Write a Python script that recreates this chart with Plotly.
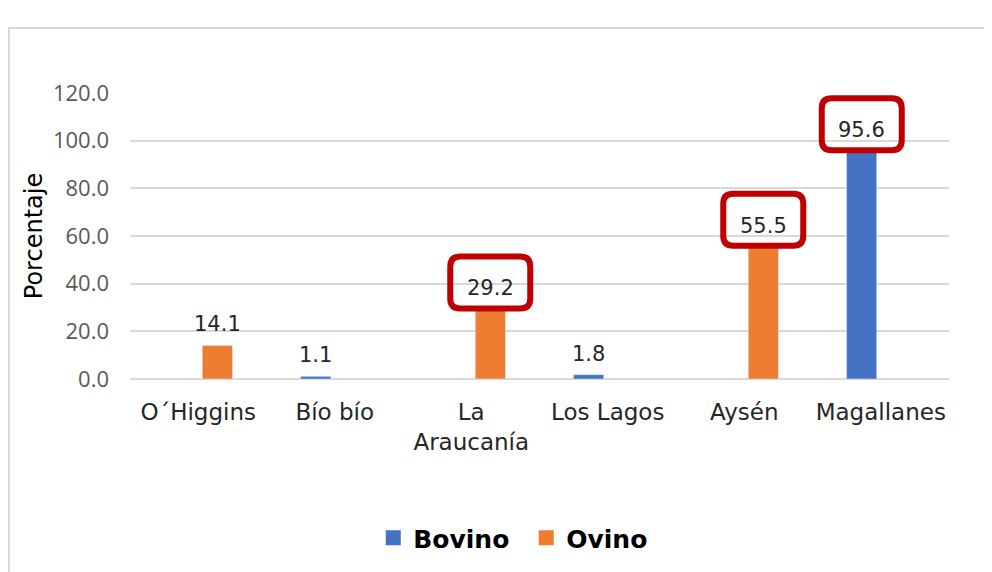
import plotly.graph_objects as go

regiones = ["O´Higgins", "Bío bío", "La Araucanía", "Los Lagos", "Aysén", "Magallanes"]
etiquetas = ["O´Higgins", "Bío bío", "La<br>Araucanía", "Los Lagos", "Aysén", "Magallanes"]
bovino = [None, 1.1, None, 1.8, None, 95.6]
ovino = [14.1, None, 29.2, None, 55.5, None]
destacados = ["La Araucanía", "Aysén", "Magallanes"]

azul = "#4472C4"
naranja = "#ED7D31"
rojo = "#C00000"
gris = "#D9D9D9"

fig = go.Figure()
fig.add_trace(go.Bar(x=regiones, y=bovino, name="Bovino", marker_color=azul, showlegend=False))
fig.add_trace(go.Bar(x=regiones, y=ovino, name="Ovino", marker_color=naranja, showlegend=False))
# legend entries with bigger square swatches
for nombre, color in (("Bovino", azul), ("Ovino", naranja)):
    fig.add_trace(go.Scatter(x=[None], y=[None], mode="markers", name=nombre,
                             marker=dict(symbol="square", size=15, color=color)))

# offset in px of each series inside the group
desplaz = {"Bovino": -19, "Ovino": 19}


def caja(dx, dy, w=80, h=52, r=10):
    x0, x1 = dx - w / 2, dx + w / 2
    y0, y1 = dy - h / 2, dy + h / 2
    return (f"M {x0+r},{y0} L {x1-r},{y0} Q {x1},{y0} {x1},{y0+r} "
            f"L {x1},{y1-r} Q {x1},{y1} {x1-r},{y1} L {x0+r},{y1} "
            f"Q {x0},{y1} {x0},{y1-r} L {x0},{y0+r} Q {x0},{y0} {x0+r},{y0} Z")


anots = []
shapes = []
for serie, vals in (("Bovino", bovino), ("Ovino", ovino)):
    for reg, v in zip(regiones, vals):
        if v is None:
            continue
        anots.append(dict(x=reg, y=v, text=f"{v:.1f}", showarrow=False,
                          xshift=desplaz[serie], yshift=21, yanchor="middle",
                          font=dict(family="DejaVu Sans", size=21, color="#262626")))
        if reg in destacados:
            shapes.append(dict(type="path", xref="x", yref="y",
                               xsizemode="pixel", ysizemode="pixel",
                               xanchor=reg, yanchor=v,
                               path=caja(desplaz[serie], 27),
                               line=dict(color=rojo, width=6)))

shapes.append(dict(type="rect", xref="paper", yref="paper",
                   x0=-0.1477, x1=1.08, y0=-0.75, y1=1.227,
                   line=dict(color=gris, width=2), layer="below"))

fig.update_layout(
    width=992, height=572,
    margin=dict(l=122, r=51, t=85, b=201),
    paper_bgcolor="white", plot_bgcolor="white",
    barmode="group", bargap=0.44, bargroupgap=0.21,
    annotations=anots, shapes=shapes,
    legend=dict(orientation="h", x=0.297, xanchor="left", y=-0.556, yanchor="middle",
                font=dict(family="DejaVu Sans", size=25, color="black", weight="bold"),
                itemwidth=30, entrywidth=108, traceorder="normal"),
    font=dict(family="DejaVu Sans"),
)
fig.update_xaxes(tickvals=regiones, ticktext=etiquetas, showgrid=False, showline=False,
                 ticks="", ticklabelstandoff=17,
                 tickfont=dict(family="DejaVu Sans", size=23, color="#262626"))
fig.update_yaxes(range=[0, 120], dtick=20, tickformat=".1f", showgrid=True,
                 gridcolor=gris, gridwidth=2, zeroline=True, zerolinecolor=gris,
                 zerolinewidth=2, showline=False, ticks="", ticklabelstandoff=20,
                 tickfont=dict(family="Open Sans", size=22, color="#595959"),
                 title=dict(text="Porcentaje", standoff=3,
                            font=dict(family="DejaVu Sans", size=24, color="black")))

fig.write_html("out.html")
